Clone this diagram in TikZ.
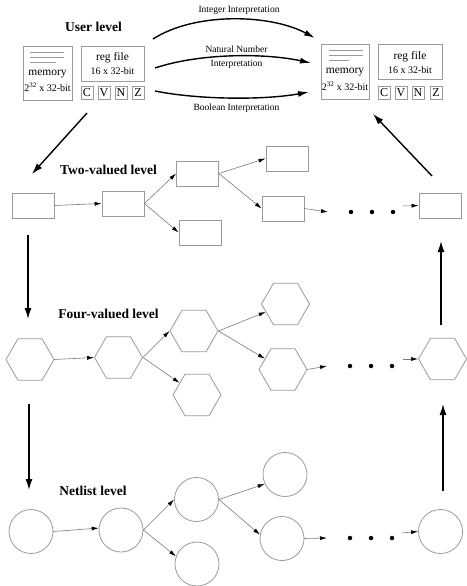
\documentclass[tikz,border=0pt]{standalone}
\usepackage{fontspec}
\setmainfont{Liberation Serif}
\usetikzlibrary{arrows.meta,shapes.geometric}
\definecolor{boxgray}{HTML}{9A9A9A}
\definecolor{linegray}{HTML}{7A7A7A}
\begin{document}
\begin{tikzpicture}[x=1pt,y=-1pt,
  box/.style={draw=boxgray, line width=0.8pt, inner sep=0pt},
  rbox/.style={box, minimum width=42pt, minimum height=25pt},
  hexa/.style={box, regular polygon, regular polygon sides=6, minimum size=48pt},
  circ/.style={box, circle, minimum size=44pt},
  thinarrow/.style={draw=linegray, line width=0.6pt, -{Latex[length=7pt,width=4pt,black]}},
  bigarrow/.style={line width=1.4pt, -{Latex[length=11pt,width=7pt]}},
  curvearrow/.style={line width=1.4pt, -{Latex[length=11pt,width=6pt]}},
  lvl/.style={font=\fontsize{13.5}{15}\selectfont\bfseries, inner sep=0pt},
  lbl/.style={font=\fontsize{9.5}{11}\selectfont, inner sep=0pt},
  big/.style={font=\fontsize{11.5}{13}\selectfont, inner sep=0pt},
  small/.style={font=\fontsize{10}{12}\selectfont, inner sep=0pt},
  flag/.style={box, minimum width=12pt, minimum height=13pt, font=\fontsize{12}{13}\selectfont},
  dot/.style={circle, fill=black, inner sep=0pt, minimum size=4.5pt}
]
\useasboundingbox (0,0) rectangle (466,586);

% ---------- User level ----------
\node[lvl] (lvlUser) at (93.5,27) {User level};

% left group
\node[box, minimum width=49pt, minimum height=54pt] (memL) at (47.5,73) {};
\draw[boxgray, line width=0.8pt] (30,52) -- (64,52) (30,57) -- (64,57) (30,62) -- (56,62);
\node[big] (memLt) at (47.5,74) {memory};
\node[small] (memLs) at (47.5,87.5) {2\textsuperscript{32} x 32-bit};
\node[box, minimum width=63pt, minimum height=35pt] (regL) at (112.5,63.5) {};
\node[big] (regLt) at (112.5,58) {reg file};
\node[small] (regLs) at (112.5,71.5) {16 x 32-bit};
\node[flag] (cL) at (87,93) {C};
\node[flag] (vL) at (104,93) {V};
\node[flag] (nL) at (121,93) {N};
\node[flag] (zL) at (138,93) {Z};

% right group
\node[box, minimum width=48pt, minimum height=55pt] (memR) at (345,71.5) {};
\draw[boxgray, line width=0.8pt] (329,50) -- (363,50) (329,55) -- (363,55) (329,60) -- (349,60);
\node[big] (memRt) at (345,72) {memory};
\node[small] (memRs) at (345,86) {2\textsuperscript{32} x 32-bit};
\node[box, minimum width=64pt, minimum height=35pt] (regR) at (410,61.5) {};
\node[big] (regRt) at (410,56.5) {reg file};
\node[small] (regRs) at (410,70.5) {16 x 32-bit};
\node[flag] (cR) at (384,92.5) {C};
\node[flag] (vR) at (401,92.5) {V};
\node[flag] (nR) at (418,92.5) {N};
\node[flag] (zR) at (436,92.5) {Z};

% interpretation arrows
\coordinate (iA) at (153,39);  \coordinate (iB) at (315,38);
\coordinate (nA) at (155,68);  \coordinate (nB) at (311,63);
\coordinate (bA) at (155,91);  \coordinate (bB) at (309,92);
\draw[curvearrow] (iA) .. controls (195,12) and (270,14) .. (iB);
\draw[curvearrow] (nA) .. controls (200,53) and (265,53) .. (nB);
\draw[curvearrow] (bA) .. controls (200,100) and (265,100) .. (bB);
\node[lbl] (tInt) at (239,10.5) {Integer Interpretation};
\node[lbl] (tNat1) at (236.5,49.5) {Natural Number};
\node[lbl] (tNat2) at (236.5,64) {Interpretation};
\node[lbl] (tBool) at (236.5,108.5) {Boolean Interpretation};

% big level arrows
\coordinate (dA) at (87,113);  \coordinate (dB) at (32,174);
\coordinate (uA) at (432,176); \coordinate (uB) at (373,114);
\draw[bigarrow] (dA) -- (dB);
\draw[bigarrow] (uA) -- (uB);
\coordinate (v1A) at (28,235); \coordinate (v1B) at (28,319);
\coordinate (v2A) at (441,325); \coordinate (v2B) at (441,241);
\draw[bigarrow] (v1A) -- (v1B);
\draw[bigarrow] (v2A) -- (v2B);
\coordinate (v3A) at (29,404); \coordinate (v3B) at (29,490);
\coordinate (v4A) at (443,491); \coordinate (v4B) at (443,404);
\draw[bigarrow] (v3A) -- (v3B);
\draw[bigarrow] (v4A) -- (v4B);

% ---------- Two-valued level ----------
\node[lvl] (lvlTwo) at (108.5,170) {Two-valued level};
\node[rbox] (r1) at (33,205.5) {};
\node[rbox] (r2) at (123,203.5) {};
\node[rbox] (r3) at (197.5,173.5) {};
\node[rbox] (r4) at (200,232.5) {};
\node[rbox] (r5) at (287,158.5) {};
\node[rbox] (r6) at (283,208.5) {};
\node[rbox] (r7) at (440,205.5) {};
\coordinate (r6e) at (328,212);
\coordinate (r7s) at (403,206);
\draw[thinarrow] (r1.east) -- (r2.west);
\draw[thinarrow] (r2.east) -- (r3.west);
\draw[thinarrow] (r2.east) -- (r4.west);
\draw[thinarrow] (r3.east) -- (r5.west);
\draw[thinarrow] (r3.east) -- (r6.west);
\draw[thinarrow] (r6.east) -- (r6e);
\draw[thinarrow] (r7s) -- (r7.west);
\node[dot] (rd1) at (351,212) {};
\node[dot] (rd2) at (372,212) {};
\node[dot] (rd3) at (393,212) {};

% ---------- Four-valued level ----------
\node[lvl] (lvlFour) at (108.5,314) {Four-valued level};
\node[hexa] (h1) at (30,359.5) {};
\node[hexa] (h2) at (118.5,357.5) {};
\node[hexa] (h3) at (194,331) {};
\node[hexa] (h4) at (197,395) {};
\node[hexa] (h5) at (285.5,304) {};
\node[hexa] (h6) at (283,369.5) {};
\node[hexa] (h7) at (442.5,359) {};
\coordinate (h6e) at (327,366);
\coordinate (h7s) at (403,359);
\draw[thinarrow] (h1.east) -- (h2.west);
\draw[thinarrow] (h2.east) -- (h3.west);
\draw[thinarrow] (h2.east) -- (h4);
\draw[thinarrow] (h3.east) -- (h5);
\draw[thinarrow] (h3.east) -- (h6);
\draw[thinarrow] (h6.east) -- (h6e);
\draw[thinarrow] (h7s) -- (h7.west);
\node[dot] (hd1) at (350,366) {};
\node[dot] (hd2) at (371,366) {};
\node[dot] (hd3) at (392,366) {};

% ---------- Netlist level ----------
\node[lvl] (lvlNet) at (93,491) {Netlist level};
\node[circ] (c1) at (31,531.5) {};
\node[circ] (c2) at (121,530) {};
\node[circ] (c3) at (196.5,499.5) {};
\node[circ] (c4) at (197,564) {};
\node[circ] (c5) at (285,474.5) {};
\node[circ] (c6) at (282,538.5) {};
\node[circ] (c7) at (440.5,531.5) {};
\coordinate (c6e) at (327,538);
\coordinate (c7s) at (402,533);
\draw[thinarrow] (c1.east) -- (c2.175);
\draw[thinarrow] (c2.east) -- (c3.west);
\draw[thinarrow] (c2.east) -- (c4.160);
\draw[thinarrow] (c3.east) -- (c5.205);
\draw[thinarrow] (c3.east) -- (c6.170);
\draw[thinarrow] (c6.east) -- (c6e);
\draw[thinarrow] (c7s) -- (c7.west);
\node[dot] (cd1) at (350,538) {};
\node[dot] (cd2) at (371,538) {};
\node[dot] (cd3) at (392,538) {};
\end{tikzpicture}
\end{document}
